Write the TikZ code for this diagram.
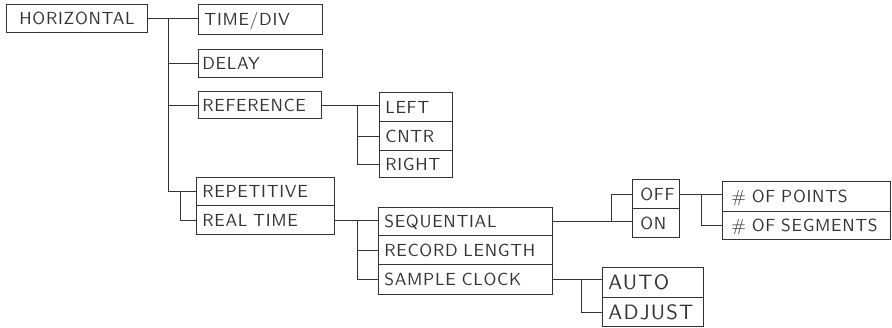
\documentclass[tikz,border=0pt]{standalone}
\usepackage{fontspec}
\newfontfamily\plotfont{lmsans10-regular.otf}[LetterSpace=4]
\newfontfamily\plotbigfont{lmsans10-regular.otf}[LetterSpace=6]
\begin{document}
\begin{tikzpicture}[x=1pt,y=-1pt,
  bxs/.style={draw=black!80, line width=0.8pt, anchor=north west, inner ysep=0pt,
    text height=12.2pt, text depth=0pt, align=left, text=black!80,
    font=\plotfont\fontsize{17.5}{17.5}\selectfont},
  bigtxt/.style={text height=14.4pt, font=\plotbigfont\fontsize{20.8}{20.8}\selectfont},
  ln/.style={draw=black!80, line width=0.8pt}]
\useasboundingbox (0,0) rectangle (892,327);
\newcommand\plbox[8][]{%
  \pgfmathsetmacro\tw{#5-2*#7}%
  \node[bxs,#1, minimum width=#5pt, minimum height=#6pt, inner xsep=#7pt, text width=\tw pt] (#2) at (#3,#4) {#8};}
% boxes
\plbox{hor}{6}{4}{141}{28}{13}{HORIZONTAL}
\plbox{tim}{198}{4}{124}{30}{6}{TIME/DIV}
\plbox{del}{198}{49}{124}{28}{4}{DELAY}
\plbox{ref}{198}{91}{123}{27}{4}{REFERENCE}
\plbox{rep}{196}{177}{138}{28}{6}{REPETITIVE}
\plbox{rt}{196}{205}{138}{29}{6}{REAL TIME}
\plbox{lft}{379}{92}{73}{29}{6}{LEFT}
\plbox{cnt}{379}{121}{73}{29}{6}{CNTR}
\plbox{rgt}{379}{150}{73}{27}{6}{RIGHT}
\plbox{seq}{378}{207}{174}{28}{6}{SEQUENTIAL}
\plbox{rec}{378}{235}{174}{29}{6}{RECORD LENGTH}
\plbox{smp}{378}{264}{174}{30}{6}{SAMPLE CLOCK}
\plbox{off}{632}{179}{47}{29}{8}{OFF}
\plbox{on}{632}{208}{47}{29}{8}{ON}
\plbox{pts}{722}{181}{168}{30}{9}{\# OF POINTS}
\plbox{seg}{722}{211}{168}{28}{9}{\# OF SEGMENTS}
\plbox[bigtxt]{aut}{602}{267}{101}{30}{6}{AUTO}
\plbox[bigtxt]{adj}{602}{297}{101}{29}{6}{ADJUST}
% trunk coordinates
\coordinate (t1) at (168,0);
\coordinate (b1) at (180,0);
\coordinate (t2) at (357,0);
\coordinate (t3) at (357,0);
\coordinate (b2) at (611,0);
\coordinate (t4) at (701,0);
\coordinate (b3) at (581,0);
% connectors
\draw[ln] (hor.east) -- (tim.west |- hor.east);
\draw[ln] (t1 |- hor.east) |- (rep.west);
\draw[ln] (t1 |- del.west) -- (del.west);
\draw[ln] (t1 |- ref.west) -- (ref.west);
\draw[ln] (b1 |- rep.west) |- (rt.west);
\draw[ln] (ref.east) -- (lft.west |- ref.east);
\draw[ln] (t2 |- ref.east) |- (rgt.west);
\draw[ln] (t2 |- cnt.west) -- (cnt.west);
\draw[ln] (rt.east) -- (seq.west |- rt.east);
\draw[ln] (t3 |- rt.east) |- (smp.west);
\draw[ln] (t3 |- rec.west) -- (rec.west);
\draw[ln] (seq.east) -- (on.west |- seq.east);
\draw[ln] (b2 |- seq.east) |- (off.west);
\draw[ln] (off.east) -- (pts.west |- off.east);
\draw[ln] (t4 |- off.east) |- (seg.west);
\draw[ln] (smp.east) -- (aut.west |- smp.east);
\draw[ln] (b3 |- smp.east) |- (adj.west);
\end{tikzpicture}
\end{document}
